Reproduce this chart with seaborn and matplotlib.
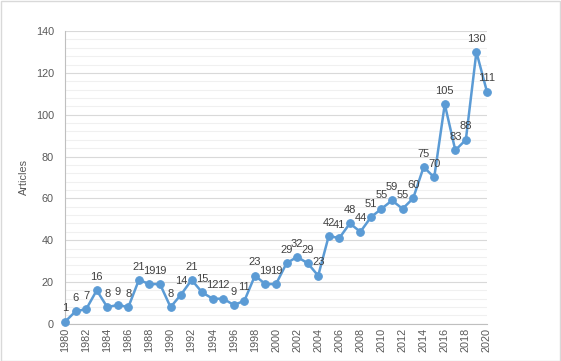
import matplotlib
matplotlib.use("Agg")
import matplotlib.pyplot as plt
import seaborn as sns
import pandas as pd
from matplotlib.patches import Rectangle
from matplotlib.ticker import MultipleLocator

years = list(range(1980, 2021))
articles = [1, 6, 7, 16, 8, 9, 8, 21, 19, 19, 8, 14, 21, 15, 12, 12, 9, 11, 23, 19, 19,
            29, 32, 29, 23, 42, 41, 48, 44, 51, 55, 59, 55, 60, 75, 70, 105, 83, 88, 130, 111]
y_label = "Articles"

df = pd.DataFrame({"Year": years, "Articles": articles})

sns.set_style("white")
plt.rcParams['font.family'] = ['Liberation Sans', 'DejaVu Sans']

fig = plt.figure(figsize=(5.61, 3.61), dpi=100)
ax = fig.add_axes([0.116, 0.103, 0.752, 0.811])

line_color = "#5B9BD5"
sns.lineplot(data=df, x="Year", y="Articles", ax=ax, color=line_color, linewidth=1.8,
             marker="o", markersize=5.5, markeredgecolor=line_color, clip_on=False, zorder=3)

for yr, v in zip(years, articles):
    ax.annotate(str(v), (yr, v), xytext=(0, 6), textcoords="offset points",
                ha="center", va="bottom", fontsize=8, color="#404040")

ax.set_xlim(1980, 2020)
ax.set_ylim(0, 140)
ax.set_xticks(list(range(1980, 2021, 2)))
ax.set_xticklabels([str(y) for y in range(1980, 2021, 2)], rotation=90, fontsize=7.8, color="#595959")
ax.yaxis.set_major_locator(MultipleLocator(20))
ax.yaxis.set_minor_locator(MultipleLocator(4))
ax.tick_params(axis="y", labelsize=7.8, labelcolor="#595959", length=0, which="both", pad=8)
ax.tick_params(axis="x", length=0, pad=3)
ax.grid(True, axis="y", which="major", color="#D9D9D9", linewidth=0.8)
ax.grid(True, axis="y", which="minor", color="#F0F0F0", linewidth=0.8)
ax.set_axisbelow(True)
ax.set_xlabel("")
ax.set_ylabel(y_label, fontsize=7.8, color="#595959", labelpad=5)

for s in ["top", "right"]:
    ax.spines[s].set_visible(False)
for s in ["left", "bottom"]:
    ax.spines[s].set_color("#BFBFBF")
    ax.spines[s].set_linewidth(0.8)

fig.patches.append(Rectangle((0.001, 0.001), 0.997, 0.997, transform=fig.transFigure,
                             fill=False, edgecolor="#D9D9D9", linewidth=1))

fig.savefig("out.png", dpi=100)
